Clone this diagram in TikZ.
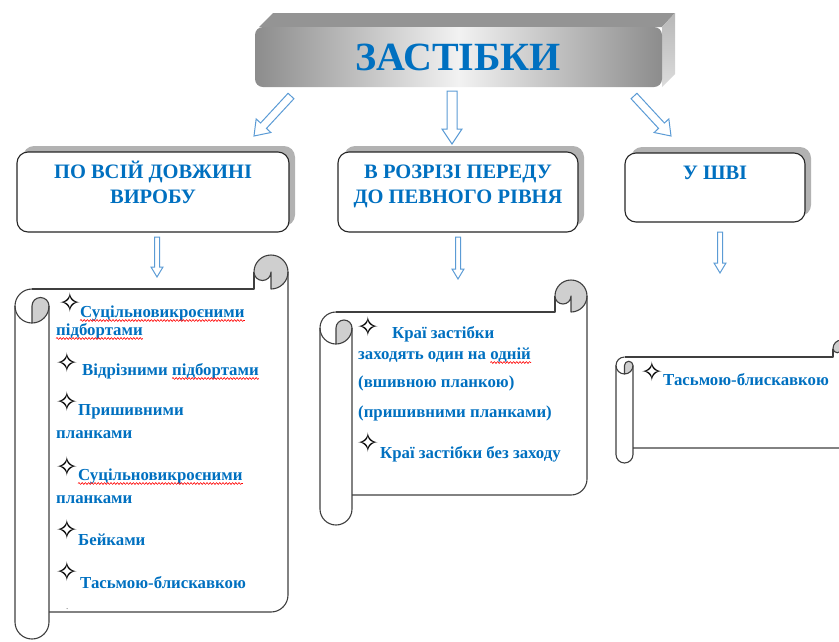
\documentclass[tikz,border=0pt]{standalone}
\usepackage{fontspec}
\setmainfont{Liberation Serif}
\newfontfamily\starfont{DejaVu Sans}
\usepackage{tikz}
\usetikzlibrary{positioning,calc,shadows,decorations.pathmorphing}

\definecolor{zblue}{HTML}{0070C0}
\definecolor{arrowblue}{HTML}{5B9BD5}
\definecolor{rollgray}{HTML}{CFCFCF}
\definecolor{rollline}{HTML}{3F3F3F}

\tikzset{
  hdrbox/.style={draw=black!85, line width=1.1pt, rounded corners=11pt, fill=white, minimum height=80pt,
    drop shadow={shadow xshift=6pt, shadow yshift=6pt, fill=black!30, opacity=1}},
  hdrtext/.style={text=zblue, font=\fontsize{20.5}{25}\selectfont\bfseries, anchor=base, inner sep=0pt},
  item/.style={text=zblue, font=\fontsize{16.8}{18}\selectfont\bfseries, anchor=base west, inner sep=0pt},
  star/.style={font=\starfont\bfseries\fontsize{27}{27}\selectfont, inner sep=0pt},
  hollow/.style={draw=arrowblue, line width=1pt, fill=white},
  spell/.style={draw=red, line width=0.6pt, decorate, decoration={snake, amplitude=0.9pt, segment length=3.2pt}},
  roll/.style={draw=rollline, line width=1.1pt, line join=round},
}

\newcommand\hollowarrow[5]{% tail, tip, shaft half width, head half width, head length
  \coordinate (hb) at ($(#2)!#5!(#1)$);
  \draw[hollow] ($(#1)!#3!90:(#2)$) -- ($(hb)!#3!90:(#2)$) -- ($(hb)!#4!90:(#2)$) -- (#2)
    -- ($(hb)!#4!-90:(#2)$) -- ($(hb)!#3!-90:(#2)$) -- ($(#1)!#3!-90:(#2)$) -- cycle;
}

\newcommand\vscroll[6]{% left, right, top, roll radius, sheet bottom, tube bottom
  \pgfmathsetmacro\scrA{#3+#4}
  \pgfmathsetmacro\scrB{#3+2*#4}
  \draw[roll] ({#1+#4},\scrB) -- ({#2-2*#4},\scrB) -- ({#2-2*#4},\scrA);
  \filldraw[roll, fill=rollgray] ({#2-2*#4},\scrA) arc[start angle=180, end angle=450, radius=#4]
    -- ({#2-#4},\scrA) arc[start angle=0, end angle=180, radius=#4/2] -- cycle;
  \draw[roll] (#2,\scrA) -- (#2,{#5-#4}) arc[start angle=0, end angle=90, radius=#4] -- ({#1+2*#4},#5);
  \draw[roll] ({#1+#4},\scrB) arc[start angle=270, end angle=90, radius=#4];
  \filldraw[roll, fill=rollgray] ({#1+#4},{\scrB+#4}) arc[start angle=180, end angle=360, radius=#4/2]
    arc[start angle=0, end angle=90, radius=#4] -- cycle;
  \draw[roll] (#1,{\scrB+#4}) -- (#1,{#6-#4}) arc[start angle=180, end angle=0, radius=#4] -- ({#1+2*#4},{\scrB+#4});
}

\begin{document}
\begin{tikzpicture}[x=1pt, y=-1pt]
\useasboundingbox (0,0) rectangle (839,641);
\clip (0,0) rectangle (839,641);

% title bar
\fill[black!42] (259,27) -- (273,13) -- (675,13) -- (662,27) -- cycle;
\shade[top color=black!28, bottom color=black!14] (662,27) -- (675,13) -- (675,74) -- (662,87) -- cycle;
\shade[left color=black!45, right color=black!45, middle color=black!5, rounded corners=8pt] (255,27) rectangle (662,87);
\node[text=zblue, font=\fontsize{40}{40}\selectfont\bfseries] (title) at (458,57) {ЗАСТІБКИ};

% headers
\node[hdrbox, minimum width=272pt] (hdr1) at (153,192) {};
\node[hdrbox, minimum width=240pt] (hdr2) at (458,192) {};
\node[hdrbox, minimum width=180pt, minimum height=69pt] (hdr3) at (715,187.5) {};
\node[hdrtext] (hdr1a) at ($(hdr1.north)+(0,27)$) {ПО ВСІЙ ДОВЖИНІ};
\node[hdrtext] (hdr1b) at ($(hdr1.north)+(0,52)$) {ВИРОБУ};
\node[hdrtext] (hdr2a) at ($(hdr2.north)+(0,27)$) {В РОЗРІЗІ ПЕРЕДУ};
\node[hdrtext] (hdr2b) at ($(hdr2.north)+(0,52)$) {ДО ПЕВНОГО РІВНЯ};
\node[hdrtext] (hdr3a) at ($(hdr3.north)+(0,27)$) {У ШВІ};

\coordinate (t1) at (291,96);  \coordinate (h1) at (254,136);
\coordinate (t2) at (452,91);  \coordinate (h2) at (452,144);
\coordinate (t3) at (634,96);  \coordinate (h3) at (671,136);
\hollowarrow{t1}{h1}{4pt}{10pt}{14pt}
\hollowarrow{t2}{h2}{5pt}{10pt}{15pt}
\hollowarrow{t3}{h3}{4pt}{10pt}{14pt}

\coordinate (u1) at (157,237); \coordinate (v1) at (157,277);
\coordinate (u2) at (458,237); \coordinate (v2) at (458,279);
\coordinate (u3) at (720,232); \coordinate (v3) at (720,273);
\hollowarrow{u1}{v1}{2.5pt}{6pt}{10pt}
\hollowarrow{u2}{v2}{2.5pt}{6pt}{10pt}
\hollowarrow{u3}{v3}{2.5pt}{6pt}{10pt}

% scrolls
\vscroll{15}{288}{255}{17}{612}{639}
\vscroll{320}{587}{280}{16}{495}{525}
\vscroll{616}{850}{340}{8.5}{448}{463}

\node[star] (st1) at (70,303) {✧};
\node[item] (i1) at (80,317) {Суцільновикроєними};
\node[item] (i2) at (56,335) {підбортами};
\node[star] (st2) at (67,363) {✧};
\node[item] (i3) at (82,375) {Відрізними};
\node[item] (i3b) at ($(i3.base east)+(4,0)$) {підбортами};
\node[star] (st3) at (67,402) {✧};
\node[item] (i4) at (78,415) {Пришивними};
\node[item] (i5) at (56,438) {планками};
\node[star] (st4) at (67,467) {✧};
\node[item] (i6) at (78,480) {Суцільновикроєними};
\node[item] (i7) at (56,503) {планками};
\node[star] (st5) at (67,530) {✧};
\node[item] (i8) at (78,545) {Бейками};
\node[star] (st6) at (67,572) {✧};
\node[item] (i9) at (80,588) {Тасьмою-блискавкою};
\node[item, text=black!60, font=\fontsize{9}{9}\selectfont] (i10) at (66,609) {.};

\node[star] (st7) at (368,327) {✧};
\node[item] (j1) at (392,338) {Краї застібки};
\node[item] (j2) at (358,359) {заходять один на};
\node[item] (j2b) at ($(j2.base east)+(4,0)$) {одній};
\node[item] (j3) at (358,387) {(вшивною планкою)};
\node[item] (j4) at (358,417) {(пришивними планками)};
\node[star] (st8) at (368,443) {✧};
\node[item] (j5) at (380,458) {Краї застібки без заходу};

\node[star] (st9) at (652,372) {✧};
\node[item] (k1) at (663,385) {Тасьмою-блискавкою};

% spelling marks
\foreach \w in {i1,i2,i3b,i6,j2b}
  \draw[spell] ([yshift=-3.5pt]\w.base west) -- ([yshift=-3.5pt]\w.base east);
\end{tikzpicture}
\end{document}
